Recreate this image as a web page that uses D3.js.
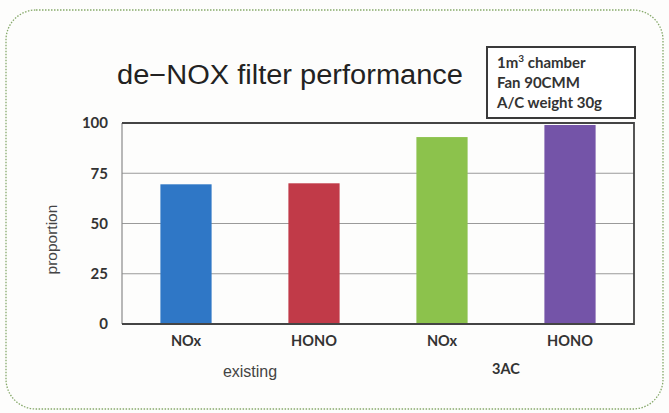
<!DOCTYPE html>
<html>
<head>
<meta charset="utf-8">
<script src="https://cdn.jsdelivr.net/npm/d3@7"></script>
<style>
  body { margin: 0; background: #fdfdfc; }
  svg { display: block; }
</style>
</head>
<body>
<svg id="chart" width="669" height="413"></svg>
<script>
var categories = ["NOx", "HONO", "NOx", "HONO"];
var groups = ["existing", "existing", "3AC", "3AC"];
var groupNames = ["existing", "3AC"];
var values = [69.5, 70, 93, 99];
var barColors = ["#2f77c6", "#c13a48", "#8cc24c", "#7454a8"];
var yTicks = [0, 25, 50, 75, 100];
var noteLines = ["Fan 90CMM", "A/C weight 30g"];

var MARGINS = { top: 123, right: 35, bottom: 89, left: 122 };
var W = 669, H = 413;
var plotWidth = W - MARGINS.left - MARGINS.right;
var plotHeight = H - MARGINS.top - MARGINS.bottom;
var boldFont = "Lato, 'Open Sans', sans-serif";

var vis = d3.select("#chart");

// dotted rounded frame
vis.append("rect")
  .attr("x", 6).attr("y", 10)
  .attr("width", 657).attr("height", 399)
  .attr("rx", 30).attr("ry", 30)
  .attr("fill", "none")
  .attr("stroke", "#86a96a")
  .attr("stroke-width", 1.3)
  .attr("stroke-dasharray", "1.5,1.5");

var idx = d3.range(categories.length);
var x = d3.scaleBand().domain(idx).range([0, plotWidth]).paddingInner(0.6).paddingOuter(0.3);
var y = d3.scaleLinear().domain([0, 100]).range([plotHeight, 0]);

var g = vis.append("g").attr("transform", "translate(" + MARGINS.left + "," + MARGINS.top + ")");

// gridlines
g.selectAll("line.grid")
  .data(yTicks.filter(function (d) { return d > 0 && d < 100; }))
  .enter().append("line")
  .attr("class", "grid")
  .attr("x1", 0).attr("x2", plotWidth)
  .attr("y1", function (d) { return y(d); })
  .attr("y2", function (d) { return y(d); })
  .attr("stroke", "#9a9a9a")
  .attr("stroke-width", 1);

// bars
g.selectAll("rect.bar")
  .data(values)
  .enter().append("rect")
  .attr("class", "bar")
  .attr("x", function (d, i) { return x(i); })
  .attr("y", function (d) { return y(d); })
  .attr("width", x.bandwidth())
  .attr("height", function (d) { return plotHeight - y(d); })
  .attr("fill", function (d, i) { return barColors[i]; });

// plot area border (left side lighter, like the original)
g.append("line")
  .attr("x1", 0).attr("x2", 0).attr("y1", 0).attr("y2", plotHeight)
  .attr("stroke", "#8a8a8a").attr("stroke-width", 1.2);
g.append("path")
  .attr("d", "M0,0H" + plotWidth + "V" + plotHeight + "H0")
  .attr("fill", "none")
  .attr("stroke", "#444")
  .attr("stroke-width", 1.8);

// y axis labels
var yAxis = d3.axisLeft(y).tickValues(yTicks).tickSize(0).tickPadding(14);
var ya = g.append("g").call(yAxis);
ya.select(".domain").remove();
ya.selectAll("text")
  .attr("font-family", boldFont)
  .attr("font-weight", "bold")
  .attr("font-size", 15)
  .attr("fill", "#333");

// x category labels
var xAxis = d3.axisBottom(x).tickFormat(function (i) { return categories[i]; }).tickSize(0).tickPadding(12);
var xa = g.append("g").attr("transform", "translate(0," + plotHeight + ")").call(xAxis);
xa.select(".domain").remove();
xa.selectAll("text")
  .attr("font-family", boldFont)
  .attr("font-weight", "bold")
  .attr("font-size", 14.5)
  .attr("fill", "#333");

// group labels
groupNames.forEach(function (name) {
  var members = idx.filter(function (i) { return groups[i] === name; });
  var cx = d3.mean(members, function (i) { return x(i) + x.bandwidth() / 2; });
  var t = g.append("text")
    .attr("x", cx)
    .attr("text-anchor", "middle")
    .text(name);
  if (name === "3AC") {
    t.attr("y", plotHeight + 50)
      .attr("font-family", boldFont)
      .attr("font-weight", "bold")
      .attr("font-size", 14.5)
      .attr("fill", "#333");
  } else {
    t.attr("y", plotHeight + 53)
      .attr("font-family", "'Liberation Sans', Arial, sans-serif")
      .attr("font-size", 16)
      .attr("fill", "#444");
  }
});

// y title
vis.append("text")
  .attr("transform", "translate(57," + (MARGINS.top + plotHeight * 0.58) + ") rotate(-90)")
  .attr("text-anchor", "middle")
  .attr("font-family", "'Liberation Sans', Arial, sans-serif")
  .attr("font-size", 15.5)
  .attr("fill", "#444")
  .text("proportion");

// title
vis.append("text")
  .attr("x", 117).attr("y", 84)
  .attr("font-family", "'Liberation Sans', Arial, sans-serif")
  .attr("font-size", 27)
  .attr("textLength", 346)
  .attr("lengthAdjust", "spacingAndGlyphs")
  .attr("fill", "#222")
  .text("de\u2212NOX filter performance");

// note box
vis.append("rect")
  .attr("x", 487).attr("y", 47)
  .attr("width", 148).attr("height", 71)
  .attr("fill", "#fff")
  .attr("stroke", "#3a3a3a")
  .attr("stroke-width", 2);

var note1 = vis.append("text")
  .attr("x", 497).attr("y", 68)
  .attr("font-family", boldFont)
  .attr("font-weight", "bold")
  .attr("font-size", 15)
  .attr("fill", "#333");
note1.append("tspan").text("1m");
note1.append("tspan").attr("dy", -6).attr("font-size", 10).text("3");
note1.append("tspan").attr("dy", 6).text(" chamber");

noteLines.forEach(function (line, i) {
  vis.append("text")
    .attr("x", 497).attr("y", 88 + i * 20)
    .attr("font-family", boldFont)
    .attr("font-weight", "bold")
    .attr("font-size", 15)
    .attr("fill", "#333")
    .text(line);
});
</script>
</body>
</html>
